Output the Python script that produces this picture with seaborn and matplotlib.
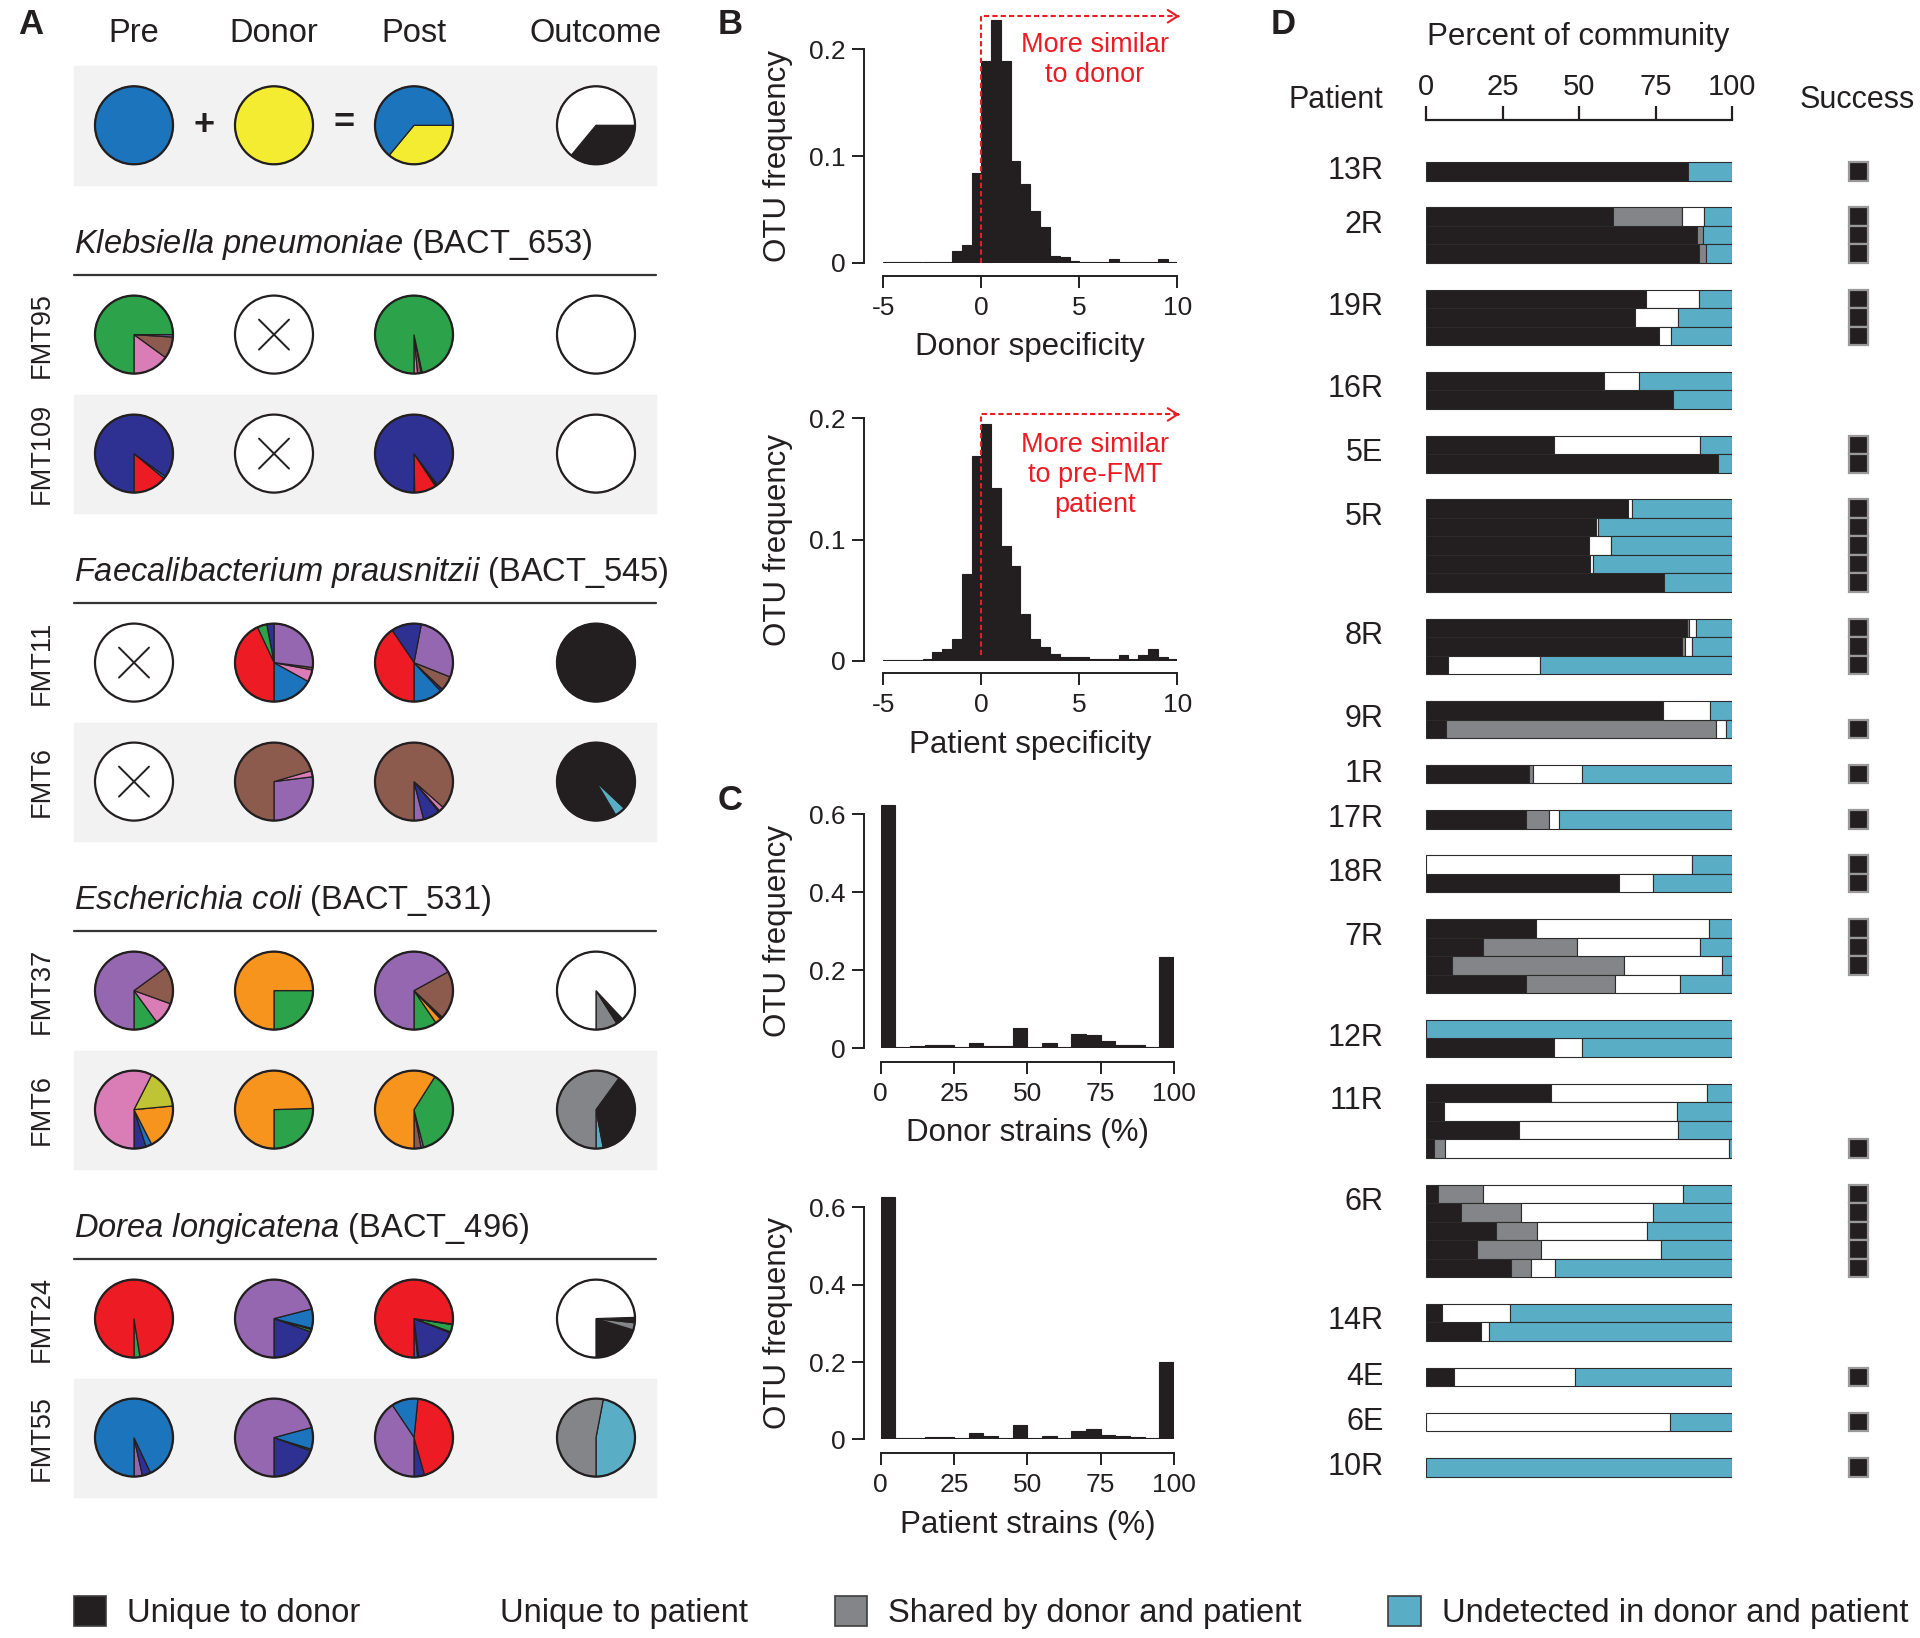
import numpy as np
import pandas as pd
import matplotlib
matplotlib.use("Agg")
import matplotlib.pyplot as plt
import seaborn as sns
from matplotlib.patches import Patch, Rectangle, Circle

sns.set_style("ticks")
plt.rcParams["font.family"] = ["Liberation Sans", "DejaVu Sans"]
plt.rcParams["mathtext.fontset"] = "custom"
plt.rcParams["mathtext.rm"] = "Liberation Sans"
plt.rcParams["mathtext.it"] = "Liberation Sans:italic"
INK = "#231f20"
RED = "#ed1c24"
for k in ["text.color", "axes.labelcolor", "xtick.color", "ytick.color", "axes.edgecolor"]:
    plt.rcParams[k] = INK

W, H = 1920, 1638

PAL = {"blue": "#1c75bc", "yellow": "#f4ec31", "green": "#2ca34a", "pink": "#da7db6",
       "brown": "#8d5a4e", "navy": "#2e3192", "red": "#ed1c24", "purple": "#9467b0",
       "orange": "#f7941d", "olive": "#bec434", "black": INK, "white": "#ffffff",
       "grey": "#838588", "cyan": "#59aec6"}

# ---------------- panel A data (percent of strain per slice, None = not detected)
a_columns = ["Pre", "Donor", "Post", "Outcome"]
key_pies = [[("blue", 100)], [("yellow", 100)],
            [("yellow", 36), ("blue", 64)], [("black", 36), ("white", 64)]]

species = ["Klebsiella pneumoniae", "Faecalibacterium prausnitzii",
           "Escherichia coli", "Dorea longicatena"]
otu_ids = ["BACT_653", "BACT_545", "BACT_531", "BACT_496"]
samples = [["FMT95", "FMT109"], ["FMT11", "FMT6"], ["FMT37", "FMT6"], ["FMT24", "FMT55"]]

klebsiella = [
    [[("pink", 15), ("brown", 9), ("purple", 1), ("green", 75)], None,
     [("pink", 1.5), ("brown", 1.5), ("black", 0.4), ("green", 96.6)], [("white", 100)]],
    [[("red", 14), ("blue", 1), ("navy", 85)], None,
     [("green", 0.3), ("red", 9), ("black", 1), ("navy", 89.7)], [("white", 100)]],
]
faecalibacterium = [
    [None, [("blue", 17), ("pink", 5), ("brown", 1), ("purple", 27), ("navy", 3), ("green", 4), ("red", 43)],
     [("blue", 12), ("navy", 1), ("brown", 6), ("purple", 28), ("navy", 12.5), ("red", 40.5)],
     [("black", 100)]],
    [None, [("purple", 27), ("pink", 2.5), ("brown", 70.5)],
     [("purple", 4), ("navy", 7), ("black", 0.5), ("pink", 2), ("brown", 86.5)],
     [("black", 8.5), ("cyan", 4.5), ("black", 87)]],
]
ecoli = [
    [[("green", 10), ("pink", 9.5), ("brown", 15.5), ("purple", 65)],
     [("green", 25), ("orange", 75)],
     [("green", 9.5), ("orange", 2.5), ("black", 1), ("brown", 20), ("purple", 67)],
     [("grey", 9), ("black", 3), ("white", 88)]],
    [[("navy", 5), ("blue", 2.5), ("orange", 19), ("olive", 16), ("pink", 57.5)],
     [("green", 25.5), ("orange", 74.5)],
     [("brown", 3), ("purple", 1), ("green", 37), ("orange", 59)],
     [("cyan", 3), ("black", 37), ("grey", 60)]],
]
dorea = [
    [[("green", 2.5), ("red", 97.5)],
     [("navy", 19.5), ("green", 1), ("black", 0.5), ("blue", 8), ("purple", 71)],
     [("blue", 1.5), ("black", 0.5), ("navy", 17), ("black", 0.5), ("green", 3), ("black", 0.3), ("red", 77.2)],
     [("black", 20.3), ("grey", 3), ("black", 2.2), ("white", 74.5)]],
    [[("purple", 3.5), ("navy", 3.5), ("blue", 93)],
     [("navy", 19.5), ("green", 0.7), ("blue", 9), ("purple", 70.8)],
     [("navy", 4.4), ("red", 44), ("blue", 11), ("purple", 40.6)],
     [("cyan", 47), ("grey", 53)]],
]
species_pies = [klebsiella, faecalibacterium, ecoli, dorea]

# ---------------- panel B data (bins of 0.5 from -5 to 10)
spec_edges = np.arange(-5, 10.01, 0.5)
donor_specificity = [0.0008, 0.0008, 0.0008, 0.0008, 0.0008, 0.0008, 0.0008, 0.011, 0.0166, 0.084,
                     0.189, 0.2275, 0.189, 0.095, 0.074, 0.048, 0.033, 0.006, 0.005, 0.0012,
                     0.001, 0.001, 0.001, 0.003, 0.001, 0.001, 0.001, 0.001, 0.0035, 0.001]
patient_specificity = [0.0008, 0.0012, 0.0012, 0.0012, 0.0015, 0.0077, 0.0096, 0.018, 0.0714, 0.169,
                       0.1956, 0.143, 0.095, 0.078, 0.039, 0.018, 0.0115, 0.006, 0.0033, 0.0033,
                       0.0033, 0.0014, 0.0014, 0.0014, 0.0047, 0.0014, 0.0047, 0.0099, 0.0033, 0.0014]

# ---------------- panel C data (bins of 5 % from 0 to 100)
strain_edges = np.arange(0, 100.01, 5)
donor_strains = [0.624, 0.004, 0.006, 0.008, 0.008, 0.004, 0.0145, 0.007, 0.006, 0.051,
                 0.004, 0.0145, 0.004, 0.036, 0.034, 0.018, 0.008, 0.0085, 0.004, 0.235]
patient_strains = [0.628, 0.004, 0.004, 0.007, 0.007, 0.004, 0.017, 0.008, 0.004, 0.036,
                   0.004, 0.008, 0.004, 0.0216, 0.026, 0.010, 0.008, 0.007, 0.004, 0.199]

# ---------------- panel D data: per sample (unique donor, shared, unique patient, undetected) %
patients = ["13R", "2R", "19R", "16R", "5E", "5R", "8R", "9R", "1R", "17R",
            "18R", "7R", "12R", "11R", "6R", "14R", "4E", "6E", "10R"]
community = [
    [(85.5, 0, 0, 14.5)],
    [(61.2, 22.5, 7.0, 9.3), (88.6, 1.8, 0, 9.6), (89.1, 2.3, 0, 8.6)],
    [(71.9, 0, 17.3, 10.8), (68.3, 0, 14.1, 17.6), (76.0, 0, 4.2, 19.8)],
    [(58.2, 0, 11.3, 30.5), (80.6, 0, 0, 19.4)],
    [(41.8, 0, 47.8, 10.4), (95.4, 0, 0, 4.6)],
    [(66.1, 0, 1.1, 32.8), (55.4, 0, 0.8, 43.8), (53.3, 0, 7.2, 39.5), (53.6, 0, 1.0, 45.4), (77.8, 0, 0, 22.2)],
    [(85.2, 0.9, 2.1, 11.8), (83.8, 1.0, 2.2, 13.0), (7.2, 0, 29.9, 62.9)],
    [(77.6, 0, 15.1, 7.3), (6.5, 88.4, 3.0, 2.1)],
    [(33.5, 1.4, 16.2, 48.9)],
    [(32.8, 7.5, 3.3, 56.4)],
    [(0, 0, 86.8, 13.2), (63.0, 0, 11.1, 25.9)],
    [(36.0, 0, 56.4, 7.6), (18.6, 30.8, 40.2, 10.4), (8.6, 56.1, 32.1, 3.2), (32.8, 29.1, 21.2, 16.9)],
    [(0, 0, 0, 100), (41.7, 0, 9.3, 49.0)],
    [(40.9, 0, 50.8, 8.3), (6.0, 0, 75.9, 18.1), (30.3, 0, 52.0, 17.7), (2.6, 3.5, 92.9, 1.0)],
    [(4.0, 14.7, 65.4, 15.9), (11.6, 19.6, 42.9, 25.9), (22.9, 13.4, 36.0, 27.7), (16.6, 21.1, 39.2, 23.1), (27.8, 6.4, 7.8, 58.0)],
    [(5.1, 0, 22.3, 72.6), (17.9, 0, 2.7, 79.4)],
    [(9.0, 0, 39.8, 51.2)],
    [(0, 0, 79.9, 20.1)],
    [(0, 0, 0, 100)],
]
success = [[1], [1, 1, 1], [1, 1, 1], [0, 0], [1, 1], [1, 1, 1, 1, 1], [1, 1, 1], [0, 1], [1], [1],
           [1, 1], [1, 1, 1, 0], [0, 0], [0, 0, 0, 1], [1, 1, 1, 1, 1], [0, 0], [1], [1], [1]]

categories = ["Unique to donor", "Unique to patient", "Shared by donor and patient",
              "Undetected in donor and patient"]
cat_colors = {"Unique to donor": PAL["black"], "Unique to patient": PAL["white"],
              "Shared by donor and patient": PAL["grey"], "Undetected in donor and patient": PAL["cyan"]}
# column of each category in the community tuples, in stacking order
bar_order = [("Unique to donor", 0), ("Shared by donor and patient", 1),
             ("Unique to patient", 2), ("Undetected in donor and patient", 3)]

fig = plt.figure(figsize=(W / 100, H / 100), dpi=100)


def px_box(x0, y0, x1, y1):
    return [x0 / W, 1 - y1 / H, (x1 - x0) / W, (y1 - y0) / H]


# overlay axes in figure pixels (y measured from top through Y())
ax_a = fig.add_axes([0, 0, 1, 1])
ax_a.patch.set_alpha(0)
Y = lambda y: H - y

R = 39
col_x = [134, 274, 414, 596]


def draw_pie(slices, cx, cy, start=-90, ccw=True):
    cy = Y(cy)
    if slices is None:
        ax_a.add_patch(Circle((cx, cy), R, facecolor="white", edgecolor=INK, lw=1.6, zorder=3))
        d = 15
        ax_a.plot([cx - d, cx + d], [cy - d, cy + d], color=INK, lw=1.4, zorder=4)
        ax_a.plot([cx - d, cx + d], [cy + d, cy - d], color=INK, lw=1.4, zorder=4)
        return
    names = [s[0] for s in slices]
    vals = [s[1] for s in slices]
    ax_a.pie(vals, colors=[PAL[n] for n in names], center=(cx, cy), radius=R,
             startangle=start, counterclock=ccw, frame=True,
             wedgeprops=dict(edgecolor=INK, linewidth=0.9, zorder=3))
    ax_a.add_patch(Circle((cx, cy), R, facecolor="none", edgecolor=INK, lw=1.6, zorder=4))


# key row
for cx, name in zip(col_x, a_columns):
    ax_a.text(cx, Y(34), name, ha="center", va="center", fontsize=23.5)
ax_a.add_patch(Rectangle((74, Y(184.6)), 582, 118.6, color="#f2f2f2", zorder=0))
for cx, pie in zip(col_x, key_pies):
    draw_pie(pie, cx, 125.3, start=0, ccw=False)
ax_a.text(204, Y(125), "+", ha="center", va="center", fontsize=26, fontweight="bold")
ax_a.text(344, Y(123), "=", ha="center", va="center", fontsize=26, fontweight="bold")

for k, (sp, oid, names, rows) in enumerate(zip(species, otu_ids, samples, species_pies)):
    off = 328 * k
    title = r"$\it{" + sp.replace(" ", r"\ ") + "}$" + f" ({oid})"
    ax_a.text(74, Y(244.6 + off), title, ha="left", va="center", fontsize=23.5)
    ax_a.plot([74, 656], [Y(275 + off)] * 2, color="#333333", lw=1.6)
    for j, (nm, row) in enumerate(zip(names, rows)):
        ry = 334.6 + 119 * j + off
        if j == 1:
            ax_a.add_patch(Rectangle((74, Y(ry + 59)), 582, 118, color="#f2f2f2", zorder=0))
        ax_a.text(42, Y(ry), nm, rotation=90, ha="center", va="center", fontsize=19.5)
        for cx, pie in zip(col_x, row):
            draw_pie(pie, cx, ry)

ax_a.set_xlim(0, W)
ax_a.set_ylim(0, H)
ax_a.axis("off")

# panel letters and free headers
for letter, (x, y) in zip("ABCD", [(18, 24), (718, 24), (718, 800), (1271, 24)]):
    ax_a.text(x, Y(y), letter, ha="left", va="center", fontsize=25, fontweight="bold")
ax_a.text(1578, Y(37), "Percent of community", ha="center", va="center", fontsize=22.5)
ax_a.text(1383.5, Y(100), "Patient", ha="right", va="center", fontsize=22)
ax_a.text(1857, Y(100), "Success", ha="center", va="center", fontsize=22)


# ---------------- panels B and C
def place_labels(ax, box, xlabel_y, ylabel_x, ylab_top, ylab_bot):
    left = box[0] * W
    width = box[2] * W
    top = (1 - box[1] - box[3]) * H
    bottom = (1 - box[1]) * H
    hgt = bottom - top
    ax.xaxis.set_label_coords(0.5, (bottom - xlabel_y) / hgt)
    ax.xaxis.label.set_va("center")
    ax.yaxis.set_label_coords((ylabel_x - left) / width, (bottom - (ylab_top + ylab_bot) / 2) / hgt)
    ax.yaxis.label.set_va("center")


def hist_axes(box, edges, freqs, ylim, yticks, ylabels, xticks, xlabel, offsets):
    ax = fig.add_axes(box)
    df = pd.DataFrame({"value": (edges[:-1] + edges[1:]) / 2, "freq": freqs})
    sns.histplot(data=df, x="value", weights="freq", bins=list(edges), color=INK, alpha=1,
                 edgecolor=INK, linewidth=0.8, ax=ax)
    ax.set_xlim(edges[0], edges[-1])
    ax.set_ylim(*ylim)
    ax.set_yticks(yticks)
    ax.set_yticklabels(ylabels)
    ax.set_xticks(xticks)
    ax.set_xticklabels([str(t) for t in xticks])
    sns.despine(ax=ax, offset={"left": offsets[0], "bottom": offsets[1]}, trim=True)
    for s in ["left", "bottom"]:
        ax.spines[s].set_linewidth(1.4)
        ax.spines[s].set_color(INK)
    ax.tick_params(length=8.4, width=1.4, labelsize=19, pad=6)
    ax.tick_params(axis="y", pad=5)
    ax.set_xlabel(xlabel, fontsize=22.5)
    ax.set_ylabel("OTU frequency", fontsize=22.5)
    return ax


def similar_arrow(ax, ybase, ytop, text, ytext):
    ax.plot([0, 0, 10.1], [ybase, ytop, ytop], color=RED, lw=1.5, ls=(0, (2.5, 1.5)),
            clip_on=False, zorder=5)
    ax.annotate("", xy=(10.25, ytop), xytext=(9.9, ytop), annotation_clip=False,
                arrowprops=dict(arrowstyle="->,head_length=0.7,head_width=0.45", color=RED, lw=1.5))
    ax.text(5.8, ytext, text, color=RED, ha="center", va="center", fontsize=19.5, linespacing=1.2)


box_b1 = px_box(883.3, 12, 1177.3, 262.7)
ax_b1 = hist_axes(box_b1, spec_edges, donor_specificity, (0, 0.235), [0, 0.1, 0.2], ["0", "0.1", "0.2"],
                  [-5, 0, 5, 10], "Donor specificity", (13.7, 9.4))
place_labels(ax_b1, box_b1, 346.7, 778, 49.3, 262.7)
similar_arrow(ax_b1, 0, 0.231, "More similar\nto donor", 0.19)

box_b2 = px_box(883.3, 406.3, 1177.3, 661)
ax_b2 = hist_axes(box_b2, spec_edges, patient_specificity, (0, 0.21), [0, 0.1, 0.2], ["0", "0.1", "0.2"],
                  [-5, 0, 5, 10], "Patient specificity", (13.7, 8.9))
place_labels(ax_b2, box_b2, 745, 778, 418.3, 661)
similar_arrow(ax_b2, 0.005, 0.2033, "More similar\nto pre-FMT\npatient", 0.153)

box_c1 = px_box(880.7, 802.6, 1174, 1048.3)
ax_c1 = hist_axes(box_c1, strain_edges, donor_strains, (0, 0.63), [0, 0.2, 0.4, 0.6],
                  ["0", "0.2", "0.4", "0.6"], [0, 25, 50, 75, 100], "Donor strains (%)", (11.8, 9.6))
place_labels(ax_c1, box_c1, 1133.3, 778, 814.3, 1048.3)

box_c2 = px_box(880.7, 1193.9, 1174, 1439.3)
ax_c2 = hist_axes(box_c2, strain_edges, patient_strains, (0, 0.635), [0, 0.2, 0.4, 0.6],
                  ["0", "0.2", "0.4", "0.6"], [0, 25, 50, 75, 100], "Patient strains (%)", (11.8, 10))
place_labels(ax_c2, box_c2, 1525, 778, 1207.3, 1439.3)

# ---------------- panel D
unit_px = 18.5
ax_d = fig.add_axes(px_box(1426, 120, 1732, 1490))
gap = 1.448
y = 0.0
for name, bars, succ in zip(patients, community, success):
    ys = y + np.arange(len(bars)) + 0.5
    left = np.zeros(len(bars))
    for cat, idx in bar_order:
        w = np.array([b[idx] for b in bars], dtype=float)
        keep = w > 0
        if keep.any():
            ax_d.barh(ys[keep], w[keep], left=left[keep], height=1, color=cat_colors[cat],
                      edgecolor="#2b2b2b", linewidth=0.8)
        left += w
    sy = ys[np.array(succ) == 1]
    if len(sy):
        ax_d.barh(sy, 6.2, left=138.1, height=1, color=INK, edgecolor="#9a9a9a",
                  linewidth=1.6, clip_on=False)
    ly = ys[0] if len(bars) == 1 else ys[0] + 0.45
    ax_d.annotate(name, xy=(0, ly), xytext=(-30.6, 0), textcoords="offset points",
                  ha="right", va="center", fontsize=22, annotation_clip=False)
    y += len(bars) + gap

ax_d.set_xlim(0, 100)
ax_d.set_ylim((1490 - 162) / unit_px, -(162 - 120) / unit_px)
ax_d.xaxis.tick_top()
ax_d.set_xticks([0, 25, 50, 75, 100])
ax_d.set_yticks([])
for s in ["left", "right", "bottom"]:
    ax_d.spines[s].set_visible(False)
ax_d.spines["top"].set_linewidth(1.6)
ax_d.tick_params(axis="x", length=10, width=1.6, labelsize=21, pad=4)
ax_d.patch.set_alpha(0)

# ---------------- legend
handles = [Patch(facecolor=cat_colors[c], edgecolor=("white" if c == "Unique to patient" else "#3d3d3d"),
                 linewidth=1.2) for c in categories]
fig.legend(handles, categories, ncol=4, loc="center left", bbox_to_anchor=(73.5 / W, 1 - 1612.7 / H),
           frameon=False, fontsize=23.6, handlelength=1.0, handleheight=1.05, handletextpad=0.63,
           columnspacing=2.64, borderpad=0, borderaxespad=0)

fig.savefig("out.png", dpi=100)
